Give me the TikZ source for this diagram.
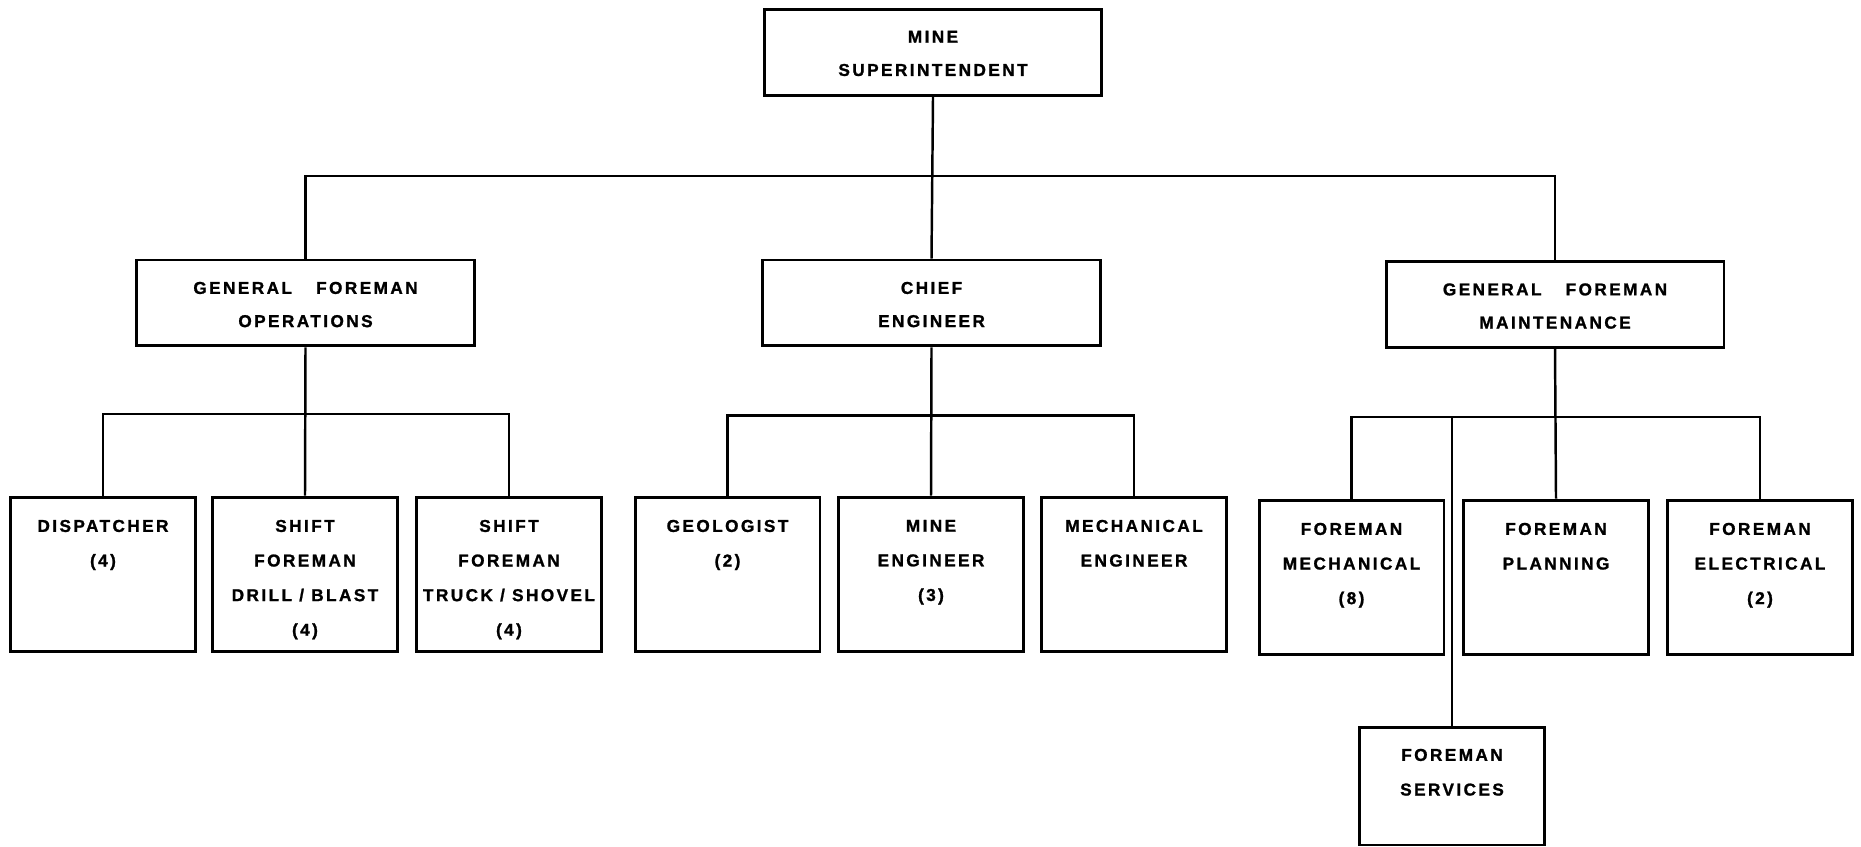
\documentclass[tikz,border=0pt]{standalone}
\usepackage{fontspec}
\newfontfamily\chartfont{Liberation Sans}[LetterSpace=14,BoldFeatures={FakeBold=1.2}]
\usetikzlibrary{positioning}
\tikzset{
  unit/.style={draw,line width=1.7pt,rectangle,inner sep=0pt,minimum width=3.7cm,minimum height=3.1cm},
  head/.style={draw,line width=1.7pt,rectangle,inner sep=0pt,minimum width=6.76cm,minimum height=1.72cm},
  lbl/.style={inner sep=0pt,align=center,font={\chartfont\bfseries\fontsize{9.8}{18.9}\selectfont}},
  sublbl/.style={lbl,font={\chartfont\bfseries\fontsize{9.8}{19.7}\selectfont}},
  tie/.style={line width=1.4pt}
}

\begin{document}
\begin{tikzpicture}[x=0.02cm,y=-0.02cm]
    \useasboundingbox (0,0) rectangle (1861,847);
    \node[head] (sup) at (933,52.5) {};
    \node[lbl,below=0.45cm of sup.north] (sup-t) {MINE\\SUPERINTENDENT};
    \node[head] (ops) at (305.5,303) {};
    \node[lbl,below=0.46cm of ops.north] (ops-t) {GENERAL\hspace{1.4em}FOREMAN\\OPERATIONS};
    \node[head] (chief) at (931.5,303) {};
    \node[lbl,below=0.46cm of chief.north] (chief-t) {CHIEF\\ENGINEER};
    \node[head] (maint) at (1555,304.5) {};
    \node[lbl,below=0.46cm of maint.north] (maint-t) {GENERAL\hspace{1.4em}FOREMAN\\MAINTENANCE};

    \node[unit] (disp) at (103,574.5) {};
    \node[sublbl,below=0.48cm of disp.north] (disp-t) {DISPATCHER\\(4)};
    \node[unit] (drill) at (305,574.5) {};
    \node[sublbl,below=0.48cm of drill.north] (drill-t) {SHIFT\\FOREMAN\\DRILL / BLAST\\(4)};
    \node[unit] (truck) at (509,574.5) {};
    \node[sublbl,below=0.48cm of truck.north] (truck-t) {SHIFT\\FOREMAN\\TRUCK / SHOVEL\\(4)};
    \node[unit] (geol) at (727.5,574.5) {};
    \node[sublbl,below=0.48cm of geol.north] (geol-t) {GEOLOGIST\\(2)};
    \node[unit] (mineeng) at (931,574.5) {};
    \node[sublbl,below=0.48cm of mineeng.north] (mineeng-t) {MINE\\ENGINEER\\(3)};
    \node[unit] (mecheng) at (1134,574.5) {};
    \node[sublbl,below=0.48cm of mecheng.north] (mecheng-t) {MECHANICAL\\ENGINEER};
    \node[unit] (fmech) at (1351.5,577.5) {};
    \node[sublbl,below=0.48cm of fmech.north] (fmech-t) {FOREMAN\\MECHANICAL\\(8)};
    \node[unit] (fplan) at (1556,577.5) {};
    \node[sublbl,below=0.48cm of fplan.north] (fplan-t) {FOREMAN\\PLANNING};
    \node[unit] (felec) at (1760,577.5) {};
    \node[sublbl,below=0.48cm of felec.north] (felec-t) {FOREMAN\\ELECTRICAL\\(2)};
    \node[unit,minimum height=2.36cm] (serv) at (1452,786) {};
    \node[sublbl,below=0.46cm of serv.north] (serv-t) {FOREMAN\\SERVICES};

    \coordinate (bus1) at (0,176);
    \coordinate (bus2) at (0,414);
    \coordinate (bus3) at (0,415.5);
    \coordinate (bus4) at (0,417);
    \draw[tie] (sup.south) -- (chief.north);
    \draw[tie] (ops.north) -- (ops.north |- bus1) -| (maint.north);
    \draw[tie] (ops.south) -- (drill.north);
    \draw[tie] (disp.north) -- (disp.north |- bus2) -| (truck.north);
    \draw[tie] (chief.south) -- (mineeng.north);
    \draw[tie] (geol.north) -- (geol.north |- bus3) -| (mecheng.north);
    \draw[tie] (maint.south) -- (fplan.north);
    \draw[tie] (fmech.north) -- (fmech.north |- bus4) -| (felec.north);
    \draw[tie] (serv.north) -- (serv.north |- bus4);
  \end{tikzpicture}
\end{document}
